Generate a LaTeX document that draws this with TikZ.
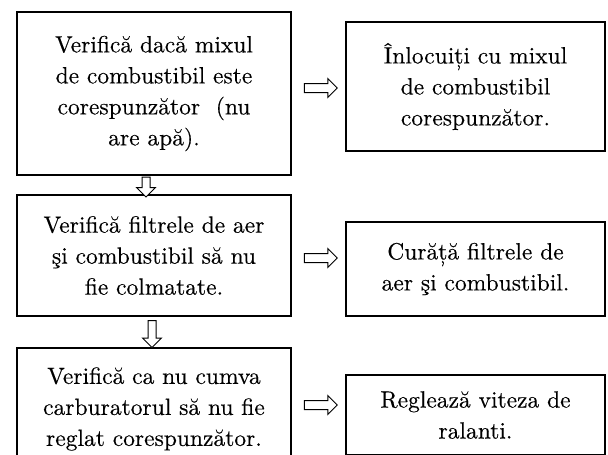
\documentclass[tikz,border=0pt]{standalone}
\usepackage{fontspec}
\setmainfont{lmroman10-regular.otf}[FakeBold=0.3]
\usetikzlibrary{shapes.arrows,calc}
\begin{document}
\begin{tikzpicture}[x=1pt,y=-1pt,
  box/.style={draw, line width=1.3pt, align=center, inner sep=0pt,
    font=\fontsize{23.5}{31}\selectfont},
  fatarrow/.style={single arrow, draw, line width=1pt, fill=white,
    inner sep=4pt, single arrow head extend=5pt, minimum height=33pt,
    single arrow tip angle=90},
  rarrow/.style={fatarrow},
  darrow/.style={fatarrow, shape border rotate=270, inner sep=3.5pt,
    single arrow head extend=5.5pt}]
\useasboundingbox (0,0) rectangle (608,455);
% left column
\node[box, minimum width=274pt, minimum height=163pt] (b1) at (154,93.5)
  {Verifică dacă mixul\\de combustibil este\\corespunzător\ \ (nu\\are apă).};
\node[box, minimum width=274pt, minimum height=121pt] (b2) at (154,255.5)
  {Verifică filtrele de aer\\şi combustibil să nu\\fie colmatate.};
\node[box, minimum width=274pt, minimum height=122pt] (b3) at (154,409)
  {Verifică ca nu cumva\\carburatorul să nu fie\\reglat corespunzător.};
% right column
\node[box, minimum width=259pt, minimum height=129pt] (r1) at (475.5,86.5)
  {Înlocuiți cu mixul\\de combustibil\\corespunzător.};
\node[box, minimum width=259pt, minimum height=94pt] (r2) at (475.5,269)
  {Curăță filtrele de\\aer şi combustibil.};
\node[box, minimum width=259pt, minimum height=80pt] (r3) at (475.5,415)
  {Reglează viteza de\\ralanti.};
% arrows
\node[rarrow] (a1) at ($(b1.east |- 0,88)!0.5!(r1.west |- 0,88)$) {};
\node[rarrow] (a2) at ($(b2.east |- 0,258)!0.5!(r2.west |- 0,258)$) {};
\node[rarrow] (a3) at ($(b3.east |- 0,405)!0.5!(r3.west |- 0,405)$) {};
\node[darrow, minimum height=20pt] (d1) at ($(b1.south)!0.5!(b2.north) + (-8,0)$) {};
\node[darrow, minimum height=27pt] (d2) at ($(b2.south)!0.5!(b3.north) + (-2,0)$) {};
\end{tikzpicture}
\end{document}
